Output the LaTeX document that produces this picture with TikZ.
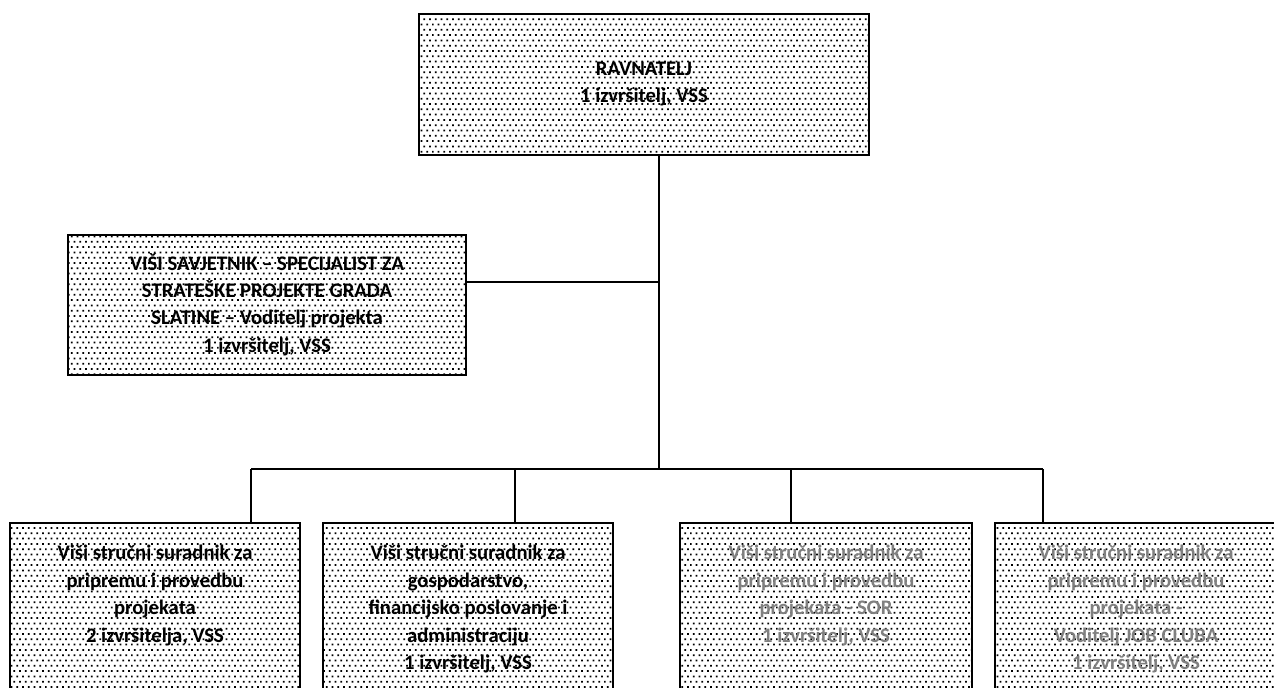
\documentclass[tikz,border=0pt]{standalone}
\usepackage{fontspec}
\setmainfont{Carlito}
\usetikzlibrary{patterns}
\pgfdeclarepatternformonly{sdots}{\pgfqpoint{-1pt}{-1pt}}{\pgfqpoint{5.3pt}{8.95pt}}{\pgfqpoint{4.3pt}{7.95pt}}{%
  \pgfpathrectangle{\pgfqpoint{-0.65pt}{-0.65pt}}{\pgfqpoint{1.3pt}{1.3pt}}%
  \pgfpathrectangle{\pgfqpoint{1.5pt}{3.32pt}}{\pgfqpoint{1.3pt}{1.3pt}}%
  \pgfusepath{fill}}
\definecolor{greytext}{RGB}{128,128,128}
\tikzset{
  orgbox/.style={draw=black, line width=1.5pt, pattern=sdots, pattern color=black, inner sep=0pt},
  boxtext/.style={font=\fontsize{15.5pt}{20.6pt}\selectfont\bfseries, align=center, inner sep=0pt},
  greyed/.style={text=greytext},
  link/.style={draw=black, line width=1.4pt}
}
\begin{document}
\begin{tikzpicture}[x=0.75pt, y=-0.75pt]
\useasboundingbox (0,0) rectangle (1274,687);
% top box
\node[orgbox, minimum width=450*0.75pt, minimum height=141*0.75pt] (top) at (644,84.5) {};
\node[boxtext] (toptext) at (644,84) {RAVNATELJ\\1 izvršitelj, VSS};
% left box
\node[orgbox, minimum width=398*0.75pt, minimum height=140*0.75pt] (lb) at (267,305) {};
\node[boxtext] (lbtext) at (267,304.5) {VIŠI SAVJETNIK – SPECIJALIST ZA\\STRATEŠKE PROJEKTE GRADA\\SLATINE – Voditelj projekta\\1 izvršitelj, VSS};
% bottom boxes
\node[orgbox, minimum width=290*0.75pt, minimum height=190*0.75pt, anchor=north] (b1) at (155,522) {};
\node[orgbox, minimum width=290*0.75pt, minimum height=190*0.75pt, anchor=north] (b2) at (468,522) {};
\node[orgbox, minimum width=292*0.75pt, minimum height=190*0.75pt, anchor=north] (b3) at (826,522) {};
\node[orgbox, minimum width=290*0.75pt, minimum height=190*0.75pt, anchor=north] (b4) at (1140,522) {};
\node[boxtext, anchor=north] (t1) at (155,545) {Viši stručni suradnik za\\pripremu i provedbu\\projekata\\2 izvršitelja, VSS};
\node[boxtext, anchor=north] (t2) at (468,545) {Viši stručni suradnik za\\gospodarstvo,\\financijsko poslovanje i\\administraciju\\1 izvršitelj, VSS};
\node[boxtext, greyed, anchor=north] (t3) at (826,545) {Viši stručni suradnik za\\pripremu i provedbu\\projekata - SOR\\1 izvršitelj, VSS};
\node[boxtext, greyed, anchor=north] (t4) at (1136,545) {Viši stručni suradnik za\\pripremu i provedbu\\projekata -\\Voditelj JOB CLUBA\\1 izvršitelj, VSS};
% connectors
\coordinate (bar) at (659,469);
\coordinate (j1) at (659,282);
\coordinate (d1) at (251,469);
\coordinate (d2) at (515,469);
\coordinate (d3) at (791,469);
\coordinate (d4) at (1043,469);
\draw[link] (top.south -| bar) -- (bar);
\draw[link] (j1) -- (j1 -| lb.east);
\draw[link] (d1) -- (d4);
\draw[link] (d1) -- (d1 |- b1.north);
\draw[link] (d2) -- (d2 |- b2.north);
\draw[link] (d3) -- (d3 |- b3.north);
\draw[link] (d4) -- (d4 |- b4.north);
\end{tikzpicture}
\end{document}
